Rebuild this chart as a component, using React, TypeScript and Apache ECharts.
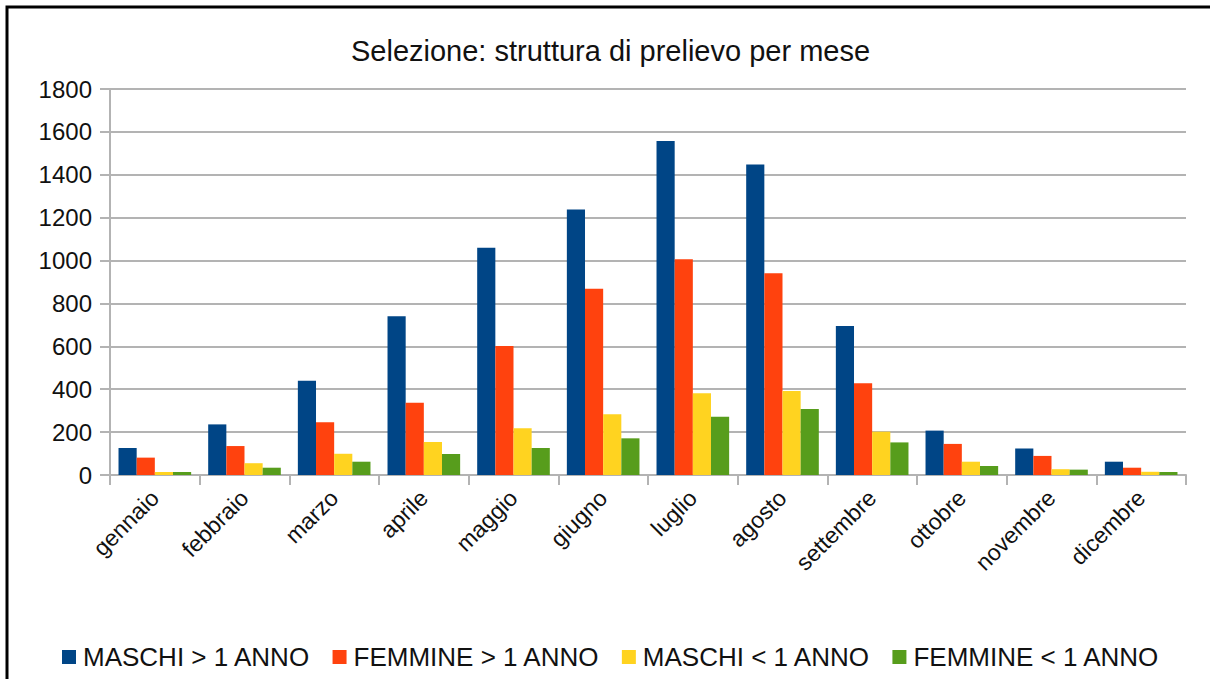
import React, { useEffect, useRef } from "react";
import * as echarts from "echarts";

const months = ["gennaio", "febbraio", "marzo", "aprile", "maggio", "giugno", "luglio", "agosto", "settembre", "ottobre", "novembre", "dicembre"];
const maschiOver = [126, 236, 440, 740, 1060, 1238, 1557, 1448, 695, 207, 124, 62];
const femmineOver = [81, 135, 246, 337, 602, 868, 1006, 941, 428, 145, 89, 34];
const maschiUnder = [14, 55, 99, 154, 218, 283, 381, 392, 202, 62, 27, 15];
const femmineUnder = [14, 34, 62, 98, 126, 171, 272, 308, 152, 42, 25, 14];
const seriesNames = ["MASCHI > 1 ANNO", "FEMMINE > 1 ANNO", "MASCHI < 1 ANNO", "FEMMINE < 1 ANNO"];
const colors = ["#004586", "#ff420e", "#ffd320", "#579d1c"];

export default function App() {
  const ref = useRef<HTMLDivElement>(null);
  useEffect(() => {
    const chart = echarts.init(ref.current!, null, { renderer: "svg" });
    const font = "'Liberation Sans', Arial, sans-serif";
    const data = [maschiOver, femmineOver, maschiUnder, femmineUnder];
    chart.setOption({
      animation: false,
      backgroundColor: "#ffffff",
      textStyle: { fontFamily: font },
      color: colors,
      title: {
        text: "Selezione: struttura di prelievo per mese",
        left: 346,
        top: 31,
        textStyle: { fontFamily: font, fontSize: 29, fontWeight: "normal", color: "#111111" },
      },
      grid: { left: 110, right: 24, top: 89, bottom: 204, containLabel: false },
      legend: {
        top: 639,
        left: 57,
        itemWidth: 14,
        itemHeight: 14,
        itemGap: 22,
        icon: "rect",
        textStyle: { fontFamily: font, fontSize: 26, color: "#111111", padding: [0, 0, 0, 2] },
        data: seriesNames,
      },
      xAxis: {
        type: "category",
        data: months,
        axisLine: { lineStyle: { color: "#b3b3b3", width: 2 } },
        axisTick: { show: true, length: 10, lineStyle: { color: "#b3b3b3", width: 2 } },
        axisLabel: { rotate: 45, fontSize: 23, color: "#111111", fontFamily: font, margin: 19, interval: 0 },
      },
      yAxis: {
        type: "value",
        min: 0,
        max: 1800,
        interval: 200,
        axisLine: { show: true, lineStyle: { color: "#b3b3b3", width: 2 } },
        axisTick: { show: true, length: 10, lineStyle: { color: "#b3b3b3", width: 2 } },
        splitLine: { lineStyle: { color: "#b3b3b3", width: 2 } },
        axisLabel: {
          fontSize: 24,
          color: "#111111",
          fontFamily: font,
          margin: 18,
          formatter: (v: number) => String(v),
        },
      },
      graphic: [
        {
          type: "rect",
          shape: { x: 7, y: 7, width: 1400, height: 900 },
          style: { fill: "none", stroke: "#000000", lineWidth: 3 },
          silent: true,
          z: 100,
        },
      ],
      series: seriesNames.map((name, i) => ({
        name,
        type: "bar",
        data: data[i],
        barGap: "0%",
        barCategoryGap: "19%",
        itemStyle: { color: colors[i] },
      })),
    });
    return () => chart.dispose();
  }, []);
  return (
    <div
      ref={ref}
      style={{ position: "absolute", left: 0, top: 0, width: 1210, height: 679 }}
    />
  );
}
